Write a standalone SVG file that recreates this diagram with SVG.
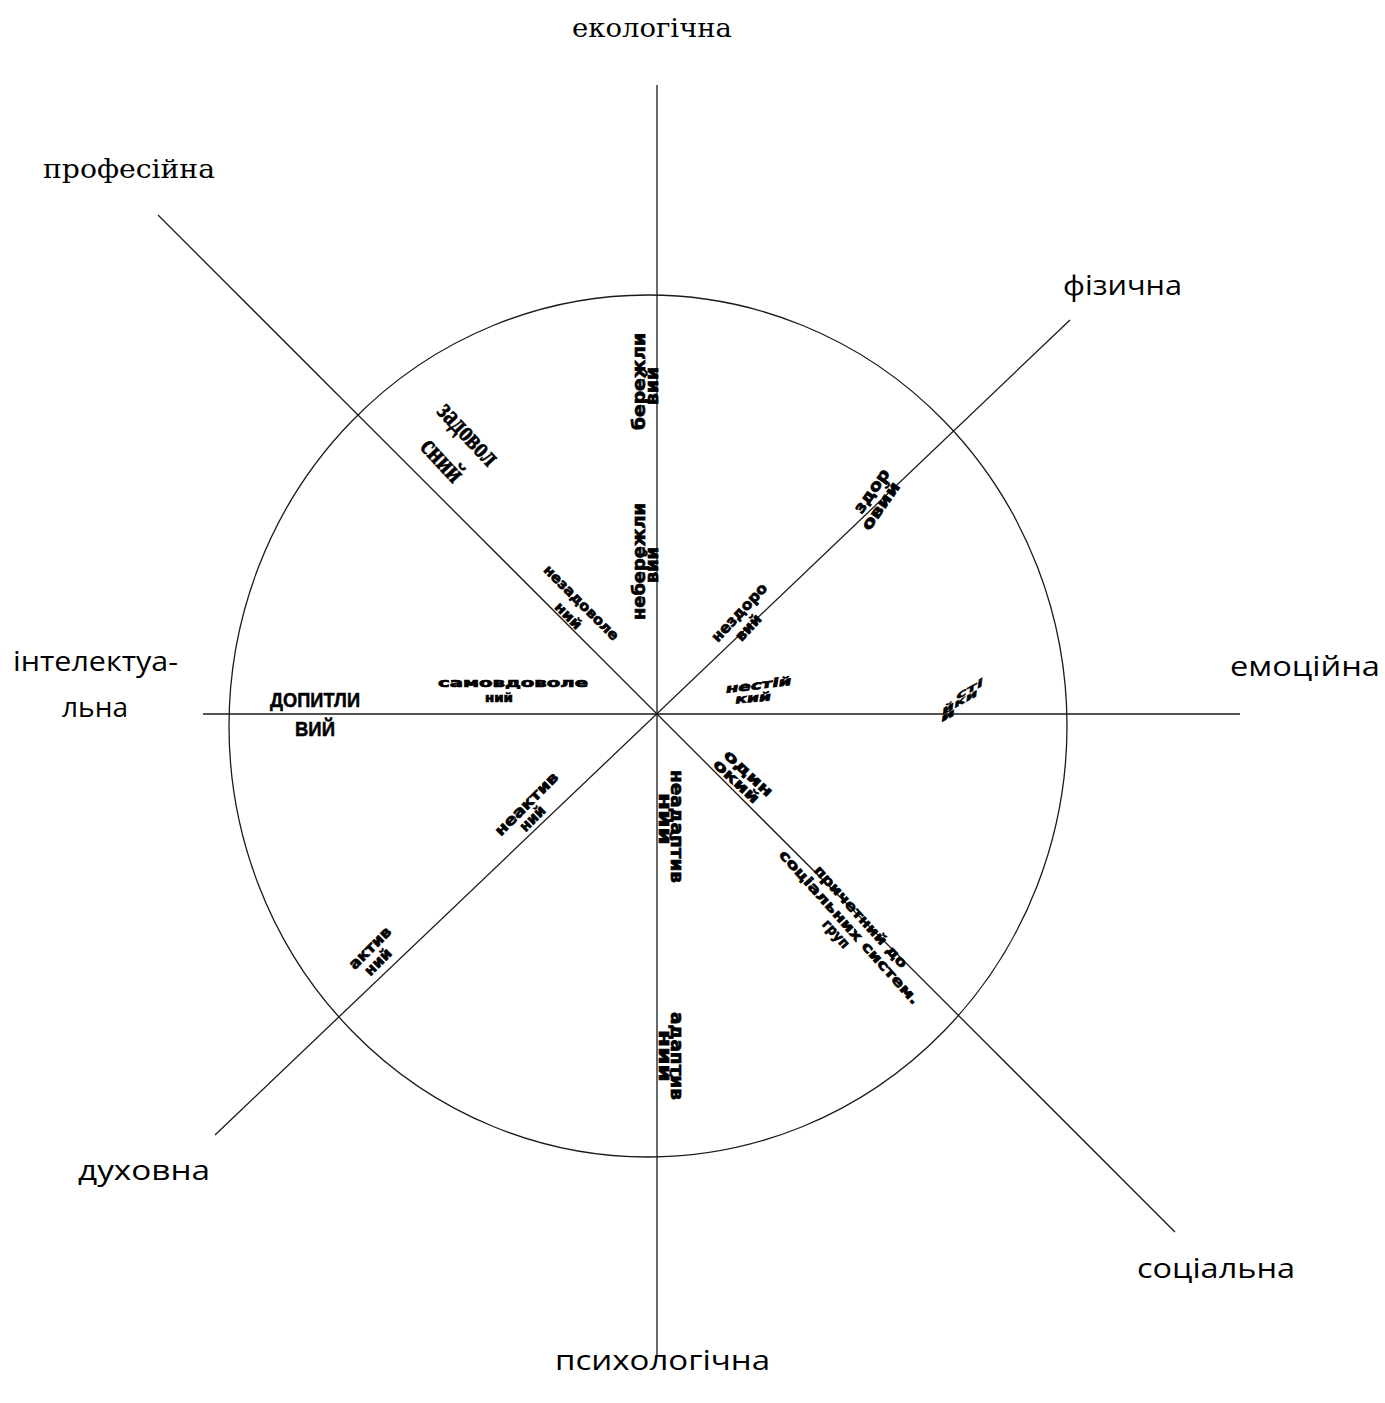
<svg xmlns="http://www.w3.org/2000/svg" width="1385" height="1403" viewBox="0 0 1385 1403">
<style>
.ax{stroke:#1a1a1a;stroke-width:1.3;fill:none}
.ser{font-family:"DejaVu Serif","Liberation Serif",serif;font-size:26px;fill:#000}
.lbl{font-family:"Open Sans","Liberation Sans",sans-serif;font-size:27px;fill:#000}
.w{font-family:"DejaVu Sans","Liberation Sans",sans-serif;font-weight:bold;font-size:15px;text-anchor:middle;fill:#000;stroke:#000;stroke-width:0.7}
.v{font-size:17px}
.s{font-size:12px}
.it{font-style:italic}
.tb{font-family:"Liberation Serif",serif;font-weight:bold;font-size:29px;text-anchor:middle;fill:#000;stroke:#000;stroke-width:0.6}
.nar{font-family:"Liberation Sans",sans-serif;font-weight:bold;font-size:21px;text-anchor:middle;fill:#000;stroke:#000;stroke-width:0.5}
</style>
<rect width="1385" height="1403" fill="#fff"/>
<g id="connectors">
<ellipse class="ax" cx="648" cy="726" rx="419" ry="431"/>
<line class="ax" x1="657" y1="85" x2="657" y2="1355"/>
<line class="ax" x1="203" y1="714" x2="1240" y2="714"/>
<line class="ax" x1="158" y1="215" x2="1175" y2="1232"/>
<line class="ax" x1="1070" y1="320" x2="215" y2="1135"/>
</g>
<g id="axis-labels">
<text id="ekolohichna" class="ser" x="572" y="37" textLength="160" lengthAdjust="spacingAndGlyphs">екологічна</text>
<text id="profesiina" class="ser" x="43" y="178" textLength="172" lengthAdjust="spacingAndGlyphs">професійна</text>
<text id="fizychna" class="lbl" x="1063" y="295" textLength="119" lengthAdjust="spacingAndGlyphs">фізична</text>
<text id="emotsiina" class="lbl" x="1230" y="676" textLength="150" lengthAdjust="spacingAndGlyphs">емоційна</text>
<g id="intelektualna">
<text class="lbl" x="13" y="671" textLength="165" lengthAdjust="spacingAndGlyphs">інтелектуа-</text>
<text class="lbl" x="62" y="717" textLength="66" lengthAdjust="spacingAndGlyphs">льна</text>
</g>
<text id="dukhovna" class="lbl" x="78" y="1180" textLength="132" lengthAdjust="spacingAndGlyphs">духовна</text>
<text id="sotsialna" class="lbl" x="1137" y="1278" textLength="158" lengthAdjust="spacingAndGlyphs">соціальна</text>
<text id="psykholohichna" class="lbl" x="555" y="1370" textLength="215" lengthAdjust="spacingAndGlyphs">психологічна</text>
</g>
<g id="berezhlyvyi">
<text class="w v" transform="translate(645,381.5) rotate(-90)" textLength="97" lengthAdjust="spacingAndGlyphs">бережли</text>
<text class="w v" transform="translate(658,386) rotate(-90)" textLength="38" lengthAdjust="spacingAndGlyphs">вий</text>
</g>
<g id="neberezhlyvyi">
<text class="w v" transform="translate(645,561.5) rotate(-90)" textLength="117" lengthAdjust="spacingAndGlyphs">небережли</text>
<text class="w v" transform="translate(658,565) rotate(-90)" textLength="36" lengthAdjust="spacingAndGlyphs">вий</text>
</g>
<g id="zadovolenyi">
<text class="tb" transform="translate(462,440) rotate(47)" textLength="76" lengthAdjust="spacingAndGlyphs">задовол</text>
<text class="tb" transform="translate(436,466) rotate(47)" textLength="50" lengthAdjust="spacingAndGlyphs">сний</text>
</g>
<g id="nezadovolenyi">
<text class="w" style="font-size:14px" transform="translate(578,606) rotate(45)" textLength="100" lengthAdjust="spacingAndGlyphs">незадоволе</text>
<text class="w" style="font-size:14px" transform="translate(565,619) rotate(45)" textLength="32" lengthAdjust="spacingAndGlyphs">ний</text>
</g>
<g id="nezdorovyi">
<text class="w" transform="translate(743,616) rotate(-47)" textLength="74" lengthAdjust="spacingAndGlyphs">нездоро</text>
<text class="w" transform="translate(752,631) rotate(-47)" textLength="31" lengthAdjust="spacingAndGlyphs">вий</text>
</g>
<g id="zdorovyi">
<text class="w" style="font-size:16px" transform="translate(876,494) rotate(-55)" textLength="50" lengthAdjust="spacingAndGlyphs">здор</text>
<text class="w" style="font-size:16px" transform="translate(885,509) rotate(-55)" textLength="55" lengthAdjust="spacingAndGlyphs">овий</text>
</g>
<g id="nestiikyi">
<text class="w s it" transform="translate(759,689) rotate(-7)" textLength="66" lengthAdjust="spacingAndGlyphs">нестій</text>
<text class="w s it" transform="translate(753.5,702) rotate(-5)" textLength="36" lengthAdjust="spacingAndGlyphs">кий</text>
</g>
<g id="stiikyi" transform="translate(960,701) rotate(-28) skewX(-35) scale(1,0.8)">
<text class="w s" style="stroke-width:0.5" x="10" y="-3.5" textLength="30" lengthAdjust="spacingAndGlyphs">сті</text>
<text class="w s" style="stroke-width:0.5" x="0" y="4.5" textLength="40" lengthAdjust="spacingAndGlyphs">йки</text>
<text class="w s" style="stroke-width:0.5" x="-12.5" y="12.5" textLength="16" lengthAdjust="spacingAndGlyphs">й</text>
</g>
<g id="samovdovolenyi">
<text class="w s" x="513" y="687" textLength="150" lengthAdjust="spacingAndGlyphs">самовдоволе</text>
<text class="w s" x="499" y="702" textLength="28" lengthAdjust="spacingAndGlyphs">ний</text>
</g>
<g id="dopytlyvyi">
<text class="nar" x="315" y="707" textLength="90" lengthAdjust="spacingAndGlyphs">ДОПИТЛИ</text>
<text class="nar" x="315" y="736" textLength="40" lengthAdjust="spacingAndGlyphs">ВИЙ</text>
</g>
<g id="odynokyi">
<text class="w" transform="translate(745,777) rotate(43)" textLength="61" lengthAdjust="spacingAndGlyphs">один</text>
<text class="w" transform="translate(733,785) rotate(43)" textLength="57" lengthAdjust="spacingAndGlyphs">окий</text>
</g>
<g id="prychetnyi">
<text class="w" style="font-size:14px" transform="translate(857.3,919.8) rotate(48)" textLength="132" lengthAdjust="spacingAndGlyphs">причетний до</text>
<text class="w" style="font-size:14px" transform="translate(845.8,930.3) rotate(48)" textLength="202" lengthAdjust="spacingAndGlyphs">соціальних систем.</text>
<text class="w" style="font-size:14px" transform="translate(832.5,937) rotate(48)" textLength="33" lengthAdjust="spacingAndGlyphs">груп</text>
</g>
<g id="neaktyvnyi">
<text class="w" transform="translate(530,807.5) rotate(-45)" textLength="83" lengthAdjust="spacingAndGlyphs">неактив</text>
<text class="w" transform="translate(536,822) rotate(-45)" textLength="30" lengthAdjust="spacingAndGlyphs">ний</text>
</g>
<g id="aktyvnyi">
<text class="w" transform="translate(373.5,951.5) rotate(-45)" textLength="53" lengthAdjust="spacingAndGlyphs">актив</text>
<text class="w" transform="translate(381.5,965.5) rotate(-45)" textLength="32" lengthAdjust="spacingAndGlyphs">ний</text>
</g>
<g id="neadaptyvnyi">
<text class="w v" transform="translate(671,826.5) rotate(90)" textLength="113" lengthAdjust="spacingAndGlyphs">неадаптив</text>
<text class="w v" transform="translate(659,819) rotate(90)" textLength="52" lengthAdjust="spacingAndGlyphs">ний</text>
</g>
<g id="adaptyvnyi">
<text class="w v" transform="translate(671,1056) rotate(90)" textLength="88" lengthAdjust="spacingAndGlyphs">адаптив</text>
<text class="w v" transform="translate(659,1056) rotate(90)" textLength="52" lengthAdjust="spacingAndGlyphs">ний</text>
</g>
</svg>
